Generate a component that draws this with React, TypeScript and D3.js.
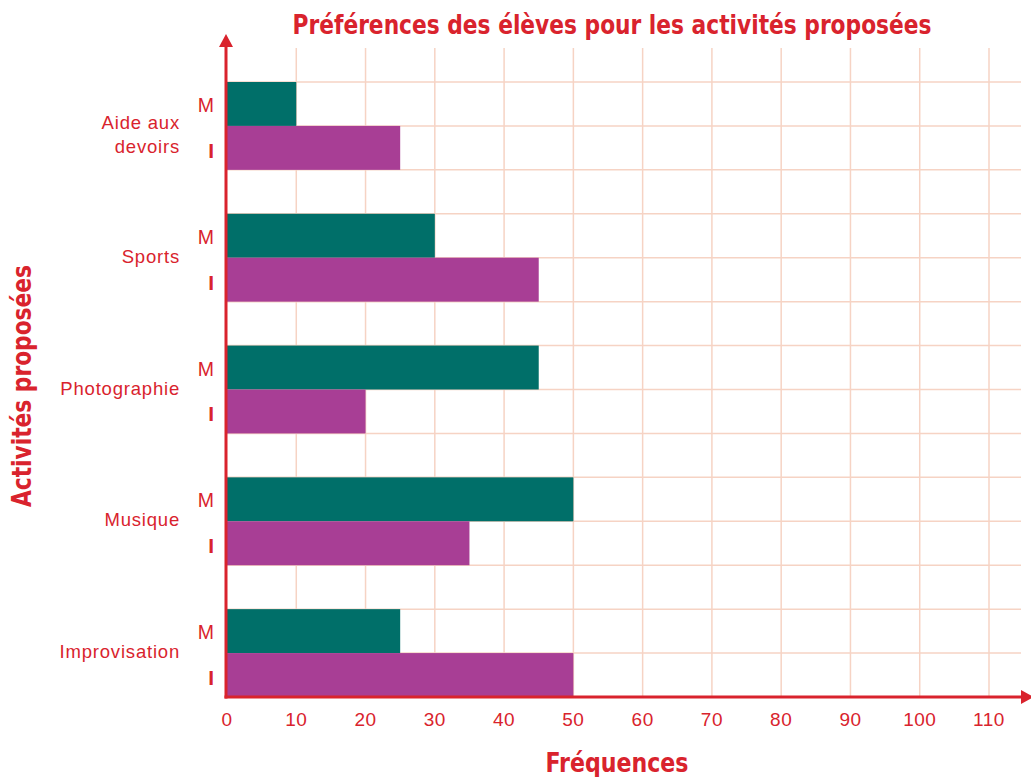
import React from "react";
import * as d3 from "d3";

const categories = ["Aide aux devoirs", "Sports", "Photographie", "Musique", "Improvisation"];
const categoryLines = [["Aide aux", "devoirs"], ["Sports"], ["Photographie"], ["Musique"], ["Improvisation"]];
const seriesKeys = ["M", "I"];
const valuesM = [10, 30, 45, 50, 25];
const valuesI = [25, 45, 20, 35, 50];
const xTicks = [0, 10, 20, 30, 40, 50, 60, 70, 80, 90, 100, 110];

const RED = "#D9232D";
const GRID = "#F6D3C4";
const TEAL = "#006F69";
const PURPLE = "#A83E95";
const FONT = "'Liberation Sans', Arial, sans-serif";
const NARROW = "'Liberation Sans Narrow', 'DejaVu Sans Condensed', Arial, sans-serif";

export default function App() {
  const W = 1031, H = 777;
  const axisX = 226, axisY = 697, topY = 82, gridTop = 48, gridRight = 1021;
  const rowH = (axisY - topY) / 14;
  const x = d3.scaleLinear().domain([0, 110]).range([227, 989]);
  const y0 = d3.scaleBand<string>().domain(categories).range([topY, topY + 15 * rowH]).padding(0);
  const y1 = d3.scaleBand<string>().domain([...seriesKeys, "gap"]).range([0, y0.bandwidth()]).padding(0);

  const hLines: number[] = [];
  categories.forEach((c) => {
    ["M", "I", "gap"].forEach((k) => hLines.push(y0(c)! + y1(k)!));
  });

  return (
    <div style={{ position: "absolute", left: 0, top: 0 }}>
      <svg width={W} height={H} style={{ display: "block" }}>
        <rect width={W} height={H} fill="#fff" />
        {/* grid */}
        {xTicks.slice(1).map((t) => (
          <line key={"v" + t} x1={x(t)} x2={x(t)} y1={gridTop} y2={axisY} stroke={GRID} strokeWidth={1.5} />
        ))}
        {hLines.filter((h) => h < axisY - 1).map((h, i) => (
          <line key={"h" + i} x1={axisX} x2={gridRight} y1={h} y2={h} stroke={GRID} strokeWidth={1.5} />
        ))}
        {/* bars */}
        {categories.map((c, i) => (
          <g key={c}>
            <rect x={x(0)} y={y0(c)! + y1("M")!} width={x(valuesM[i]) - x(0)} height={y1.bandwidth()} fill={TEAL} />
            <rect x={x(0)} y={y0(c)! + y1("I")!} width={x(valuesI[i]) - x(0)} height={y1.bandwidth()} fill={PURPLE} />
          </g>
        ))}
        {/* axes */}
        <line x1={axisX} x2={axisX} y1={axisY + 1.5} y2={46} stroke={RED} strokeWidth={3} />
        <path d={`M${axisX - 7},47 L${axisX + 7},47 L${axisX},34 Z`} fill={RED} />
        <line x1={axisX - 1.5} x2={1022} y1={axisY} y2={axisY} stroke={RED} strokeWidth={3} />
        <path d={`M1021,${axisY - 7} L1021,${axisY + 7} L1034,${axisY} Z`} fill={RED} />
        {/* x tick labels */}
        {xTicks.map((t) => (
          <text key={"t" + t} x={x(t)} y={726} textAnchor="middle" fontFamily={FONT} fontSize={19} fill={RED} letterSpacing={0.5}>
            {t}
          </text>
        ))}
        {/* M / I labels */}
        {categories.map((c) => (
          <g key={"mi" + c}>
            {seriesKeys.map((k) => (
              <text key={k} x={214} y={y0(c)! + y1(k)! + y1.bandwidth() / 2 + (k === "I" ? 10 : 8)} textAnchor="end" fontFamily={FONT} fontSize={k === "I" ? 21 : 19.5} fill={RED} fontWeight={k === "I" ? "bold" : "normal"}>
                {k}
              </text>
            ))}
          </g>
        ))}
        {/* category labels */}
        {categories.map((c, i) => {
          const lines = categoryLines[i];
          const cy = y0(c)! + y1("I")!;
          return (
            <text key={"c" + c} x={180} textAnchor="end" fontFamily={FONT} fontSize={18.5} fill={RED} letterSpacing={0.8}>
              {lines.map((l, j) => (
                <tspan key={j} x={180} y={lines.length > 1 ? cy + 3 + j * 24 : cy + 5}>
                  {l}
                </tspan>
              ))}
            </text>
          );
        })}
        {/* titles */}
        <text x={612} y={34} textAnchor="middle" fontFamily={NARROW} fontWeight="bold" fontSize={26} fill={RED} textLength={639} lengthAdjust="spacingAndGlyphs">
          Préférences des élèves pour les activités proposées
        </text>
        <text x={617} y={772} textAnchor="middle" fontFamily={NARROW} fontWeight="bold" fontSize={26} fill={RED} textLength={143} lengthAdjust="spacingAndGlyphs">
          Fréquences
        </text>
        <text transform="translate(31,386) rotate(-90)" textAnchor="middle" fontFamily={NARROW} fontWeight="bold" fontSize={26} fill={RED} textLength={242} lengthAdjust="spacingAndGlyphs">
          Activités proposées
        </text>
      </svg>
    </div>
  );
}
